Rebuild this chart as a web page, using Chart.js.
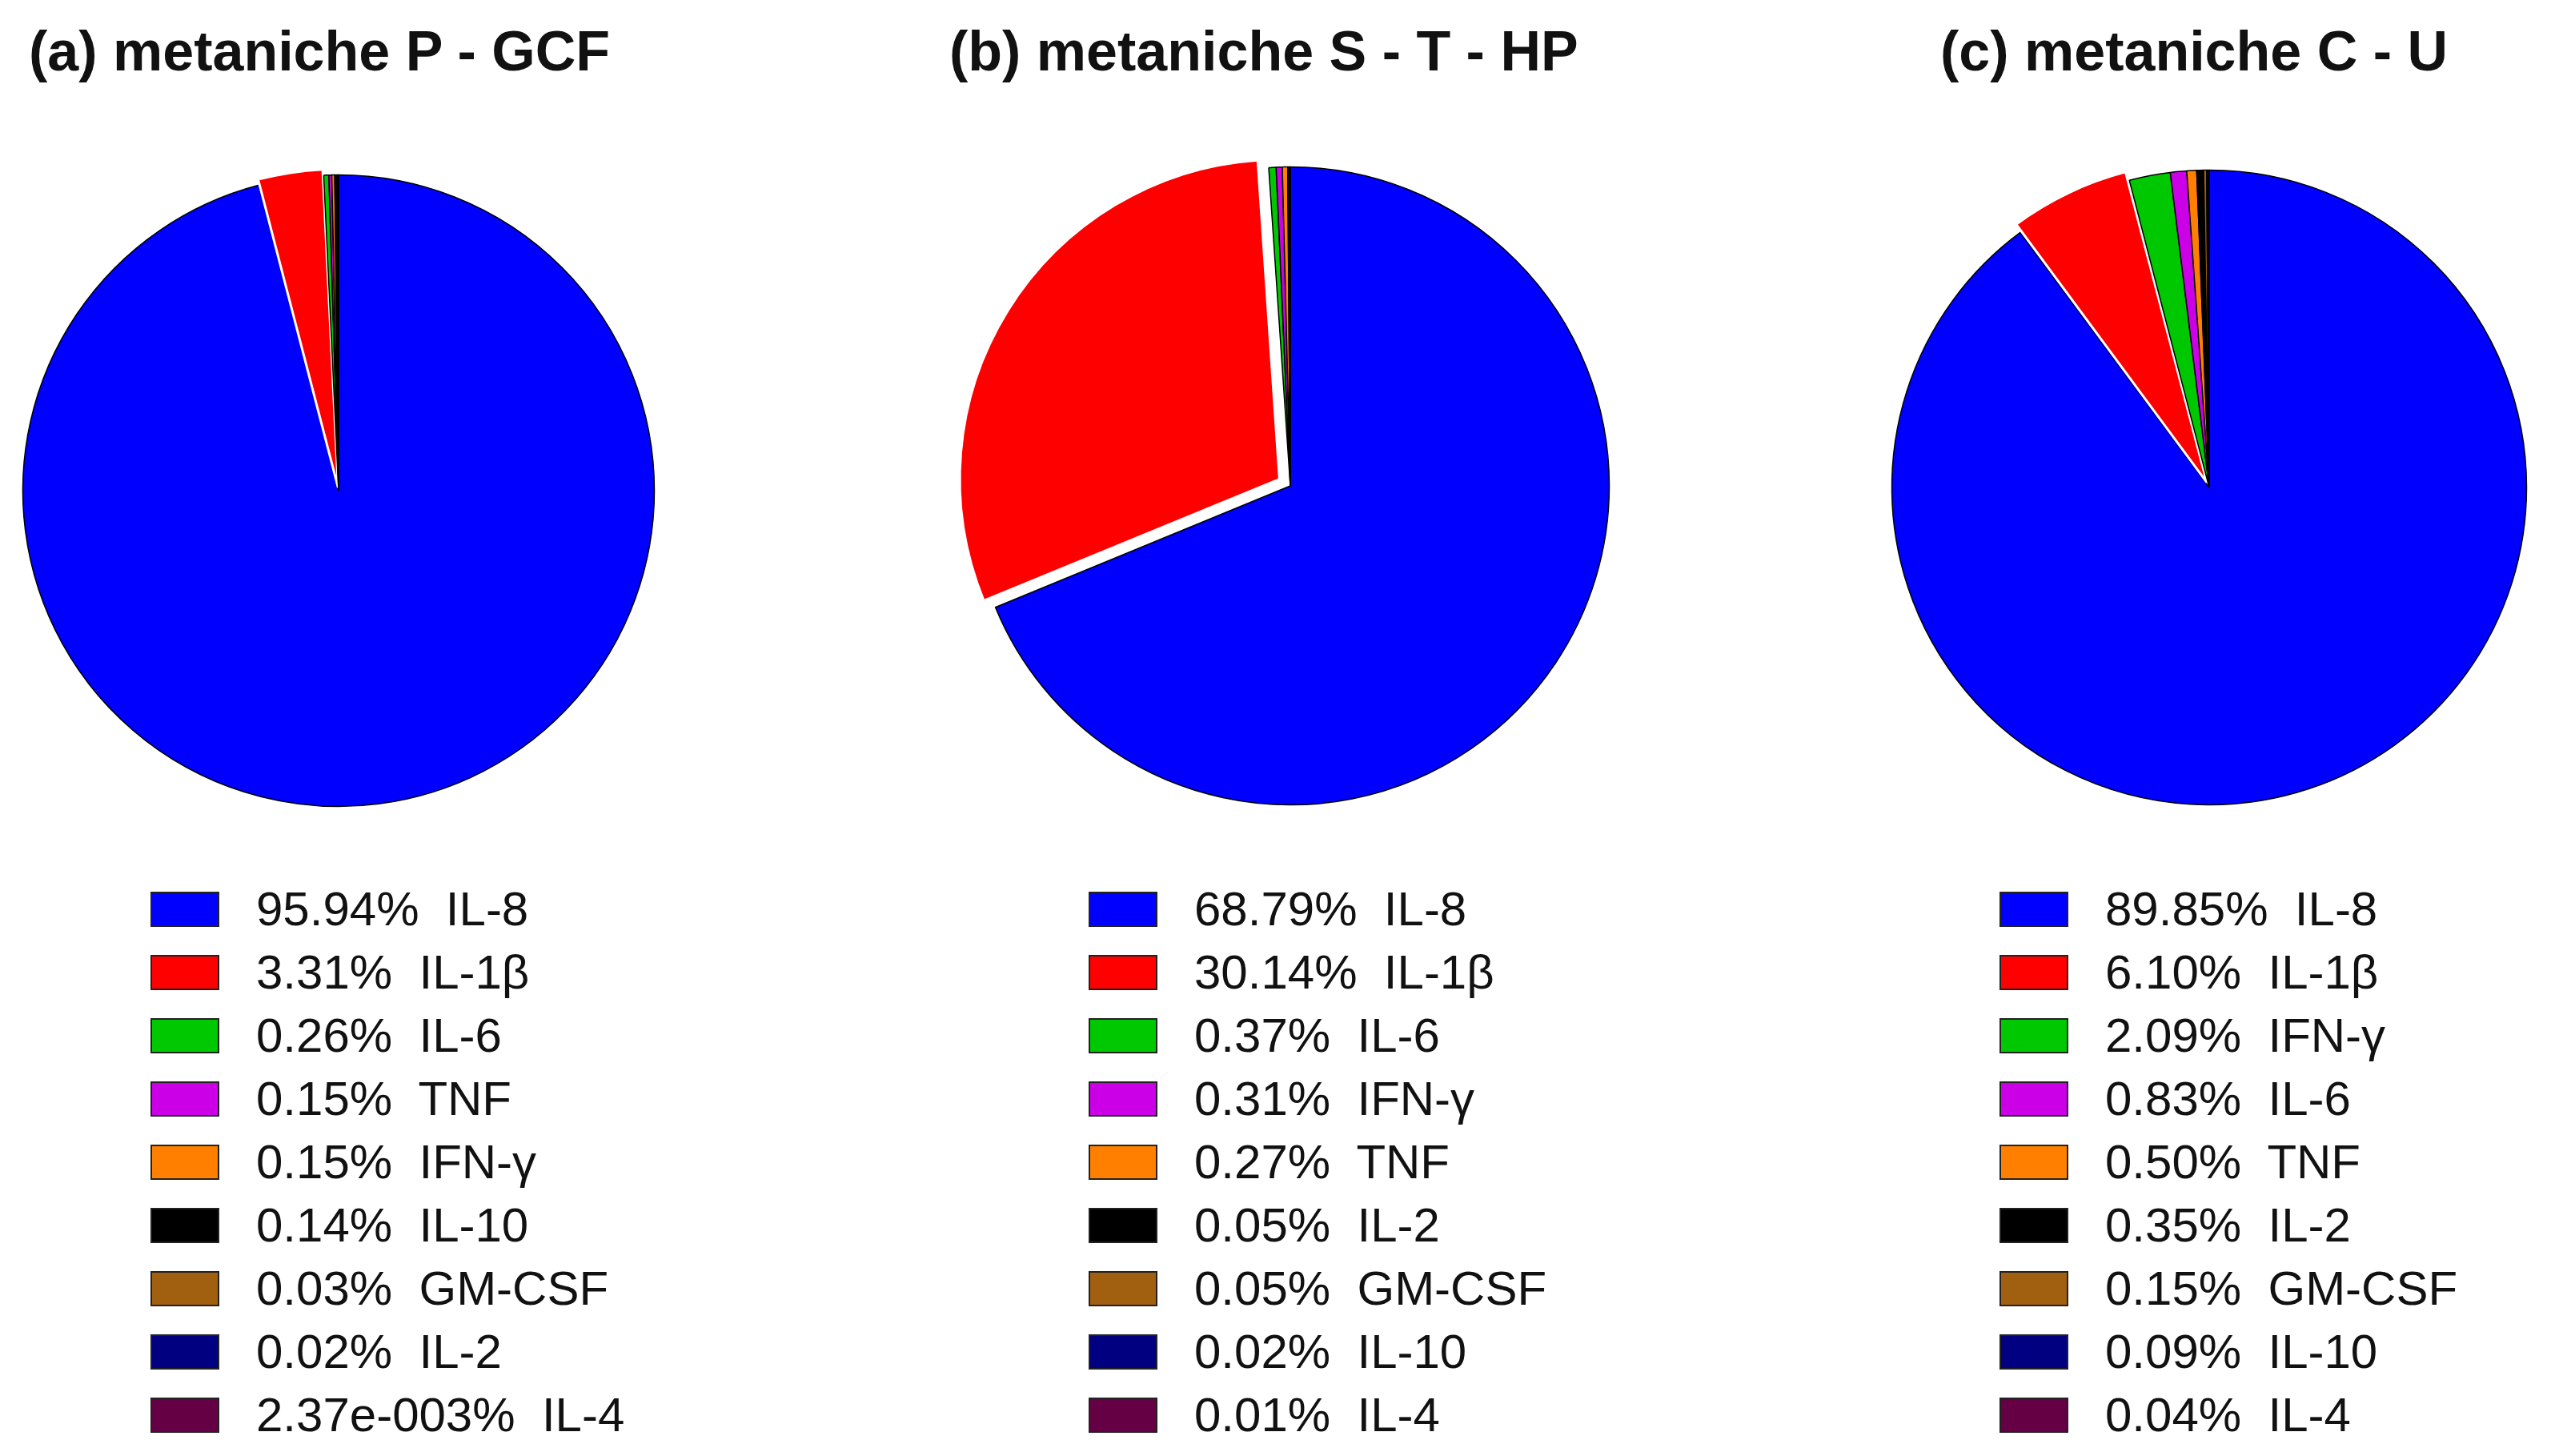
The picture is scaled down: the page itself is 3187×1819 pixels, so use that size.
<!DOCTYPE html>
<html><head><meta charset="utf-8">
<script src="https://cdn.jsdelivr.net/npm/chart.js@4"></script>
<style>
body{margin:0;background:#fff;width:3187px;height:1819px;position:relative;overflow:hidden;font-family:"Liberation Sans",Arial,sans-serif}
.title{position:absolute;top:24px;font-weight:bold;font-size:70px;color:#111;white-space:nowrap}
canvas{position:absolute}
.legend{position:absolute;top:1096px;font-size:60px;color:#111}
.row{height:79px;display:flex;align-items:center;white-space:pre}
.sw{width:86px;height:44px;border:2px solid #222;box-sizing:border-box;margin-right:46px}
</style></head><body>
<div class="title" style="left:36px">(a) metaniche P - GCF</div>
<div class="title" style="left:1186px">(b) metaniche S - T - HP</div>
<div class="title" style="left:2424px">(c) metaniche C - U</div>
<canvas id="ca"></canvas><canvas id="cb"></canvas><canvas id="cc"></canvas>
<div class="legend" id="la" style="left:188px"></div>
<div class="legend" id="lb" style="left:1360px"></div>
<div class="legend" id="lc" style="left:2498px"></div>
<script>
// ───────── DATA ─────────
const labelsA = ["IL-8","IL-1β","IL-6","TNF","IFN-γ","IL-10","GM-CSF","IL-2","IL-4"];
const valuesA = [95.94,3.31,0.26,0.15,0.15,0.14,0.03,0.02,0.00237];
const textA   = ["95.94%","3.31%","0.26%","0.15%","0.15%","0.14%","0.03%","0.02%","2.37e-003%"];

const labelsB = ["IL-8","IL-1β","IL-6","IFN-γ","TNF","IL-2","GM-CSF","IL-10","IL-4"];
const valuesB = [68.79,30.14,0.37,0.31,0.27,0.05,0.05,0.02,0.01];
const textB   = ["68.79%","30.14%","0.37%","0.31%","0.27%","0.05%","0.05%","0.02%","0.01%"];

const labelsC = ["IL-8","IL-1β","IFN-γ","IL-6","TNF","IL-2","GM-CSF","IL-10","IL-4"];
const valuesC = [89.85,6.10,2.09,0.83,0.50,0.35,0.15,0.09,0.04];
const textC   = ["89.85%","6.10%","2.09%","0.83%","0.50%","0.35%","0.15%","0.09%","0.04%"];

// colours go by slice position, same palette in every panel
const palette = ["#0000ff","#ff0000","#00c800","#cc00e6","#ff8000","#000000","#a0600f","#000080","#660044"];

// ───────── PIES ─────────
function makePie(id, labels, values, cx, cy, r, shift, legId, texts){
  const c = document.getElementById(id);
  const size = 2*(r+shift);
  c.width = size; c.height = size;
  c.style.left = (cx-size/2)+"px"; c.style.top = (cy-size/2)+"px";
  new Chart(c,{
    type:"pie",
    data:{labels, datasets:[{data:values,
      backgroundColor:palette,
      borderColor:labels.map((l,i)=>i===1?"#ffffff":"#000000"),
      borderWidth:labels.map((l,i)=>i===1?3:1.5),
      offset:labels.map((l,i)=>i===1?2*shift:0)}]}, // chart.js draws offset/2
    options:{responsive:false,animation:false,devicePixelRatio:1,
      plugins:{legend:{display:false},tooltip:{enabled:false}}}
  });
  const leg = document.getElementById(legId);
  labels.forEach((l,i)=>{
    leg.innerHTML += `<div class="row"><div class="sw" style="background:${palette[i]}"></div>${texts[i]}  ${l}</div>`;
  });
}
makePie("ca",labelsA,valuesA,423,613,396,8,"la",textA);
makePie("cb",labelsB,valuesB,1612,607,400,32,"lb",textB);
makePie("cc",labelsC,valuesC,2760,609,398,14,"lc",textC);
</script></body></html>
